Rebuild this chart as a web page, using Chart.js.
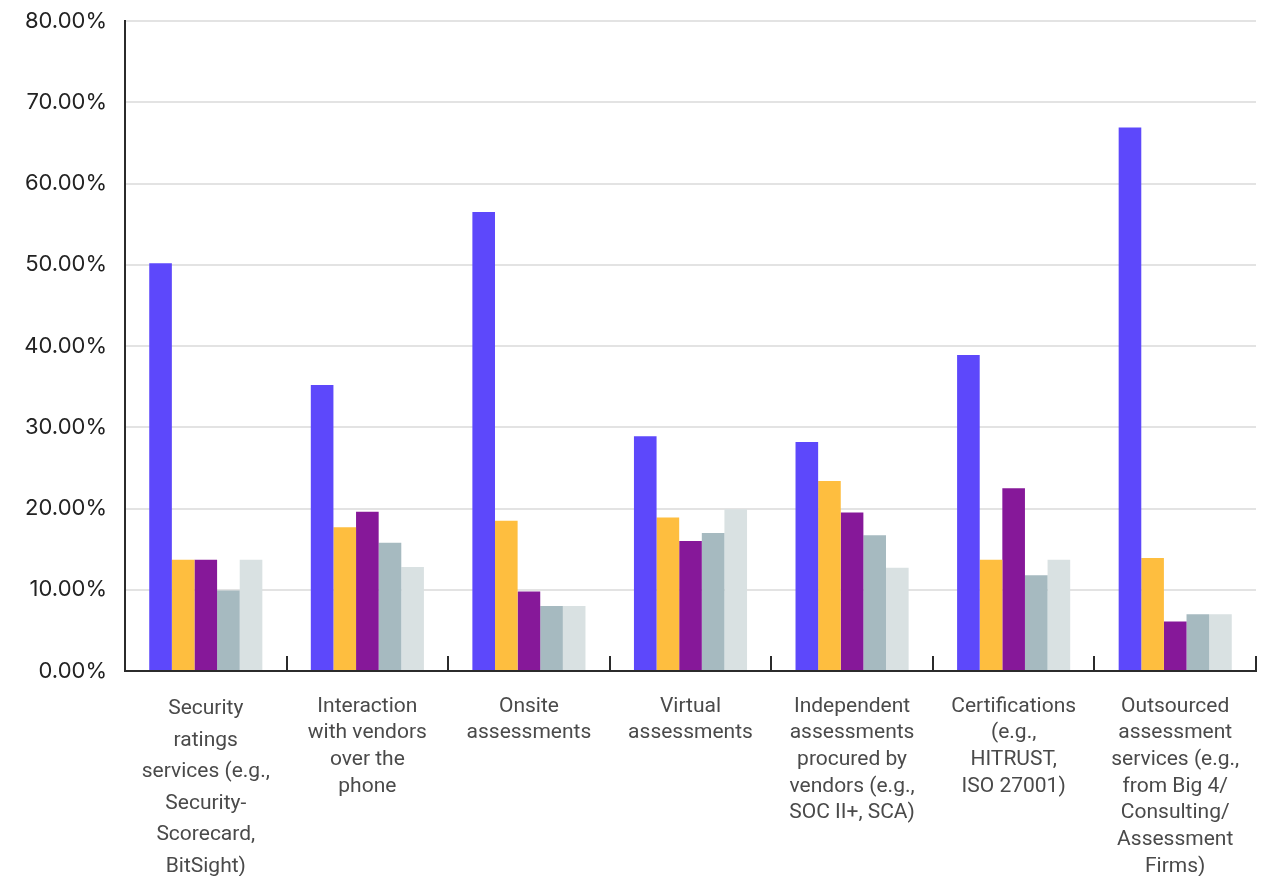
<!DOCTYPE html>
<html>
<head>
<meta charset="utf-8">
<script src="https://cdn.jsdelivr.net/npm/chart.js@4.4.0/dist/chart.umd.min.js"></script>
<style>
  html, body { margin: 0; padding: 0; background: #ffffff; }
  #wrap { width: 1268px; height: 876px; }
</style>
</head>
<body>
<div id="wrap"><canvas id="myChart" width="1268" height="876"></canvas></div>
<script>
var categories = [
    ['Security', 'ratings', 'services (e.g.,', 'Security-', 'Scorecard,', 'BitSight)'],
    ['Interaction', 'with vendors', 'over the', 'phone'],
    ['Onsite', 'assessments'],
    ['Virtual', 'assessments'],
    ['Independent', 'assessments', 'procured by', 'vendors (e.g.,', 'SOC II+, SCA)'],
    ['Certifications', '(e.g.,', 'HITRUST,', 'ISO 27001)'],
    ['Outsourced', 'assessment', 'services (e.g.,', 'from Big 4/', 'Consulting/', 'Assessment', 'Firms)']
];

var series1 = [50.2, 35.2, 56.5, 28.9, 28.2, 38.9, 66.9];
var series2 = [13.7, 17.7, 18.5, 18.9, 23.4, 13.7, 13.9];
var series3 = [13.7, 19.6, 9.8, 16.0, 19.5, 22.5, 6.1];
var series4 = [9.9, 15.8, 8.0, 17.0, 16.7, 11.8, 7.0];
var series5 = [13.7, 12.8, 8.0, 19.9, 12.7, 13.7, 7.0];

var yTicks = [0, 10, 20, 30, 40, 50, 60, 70, 80];

var ctx = document.getElementById('myChart').getContext('2d');
var myChart = new Chart(ctx, {
    type: 'bar',
    data: {
        labels: categories,
        datasets: [
            { label: 'Series 1', data: series1, backgroundColor: '#5d48fb' },
            { label: 'Series 2', data: series2, backgroundColor: '#febe3f' },
            { label: 'Series 3', data: series3, backgroundColor: '#861899' },
            { label: 'Series 4', data: series4, backgroundColor: '#a6bac0' },
            { label: 'Series 5', data: series5, backgroundColor: '#d9e1e2' }
        ]
    },
    options: {
        responsive: false,
        animation: false,
        layout: { padding: { top: 21, right: 12, left: 0, bottom: 0 } },
        datasets: {
            bar: { barPercentage: 1.0, categoryPercentage: 0.7, borderWidth: 0 }
        },
        plugins: {
            legend: { display: false },
            tooltip: { enabled: false }
        },
        scales: {
            x: {
                offset: true,
                border: { display: true, color: '#2b2b2b', width: 2 },
                grid: {
                    offset: true,
                    drawOnChartArea: false,
                    drawTicks: true,
                    tickLength: -15,
                    color: '#2b2b2b',
                    lineWidth: 2
                },
                ticks: {
                    maxRotation: 0,
                    autoSkip: false,
                    padding: 37,
                    color: '#4a4a4a',
                    font: function (c) {
                        return { family: 'Roboto', size: 21, lineHeight: c.index === 0 ? 1.5 : 1.27 };
                    }
                },
                afterFit: function (scale) {
                    scale.height = 205;
                    scale.paddingLeft = 0;
                    scale.paddingRight = 0;
                }
            },
            y: {
                min: 0,
                max: 80,
                border: { display: true, color: '#2b2b2b', width: 2 },
                grid: { color: '#e3e3e3', lineWidth: 2, drawTicks: false },
                afterBuildTicks: function (scale) {
                    scale.ticks = yTicks.map(function (v) { return { value: v }; });
                },
                ticks: {
                    padding: 18,
                    color: '#222222',
                    font: { family: 'Inter', size: 22 },
                    callback: function (v) { return Number(v).toFixed(2) + '%'; }
                },
                afterFit: function (scale) {
                    scale.width = 125;
                    scale.paddingTop = 0;
                    scale.paddingBottom = 0;
                }
            }
        }
    }
});
</script>
</body>
</html>
